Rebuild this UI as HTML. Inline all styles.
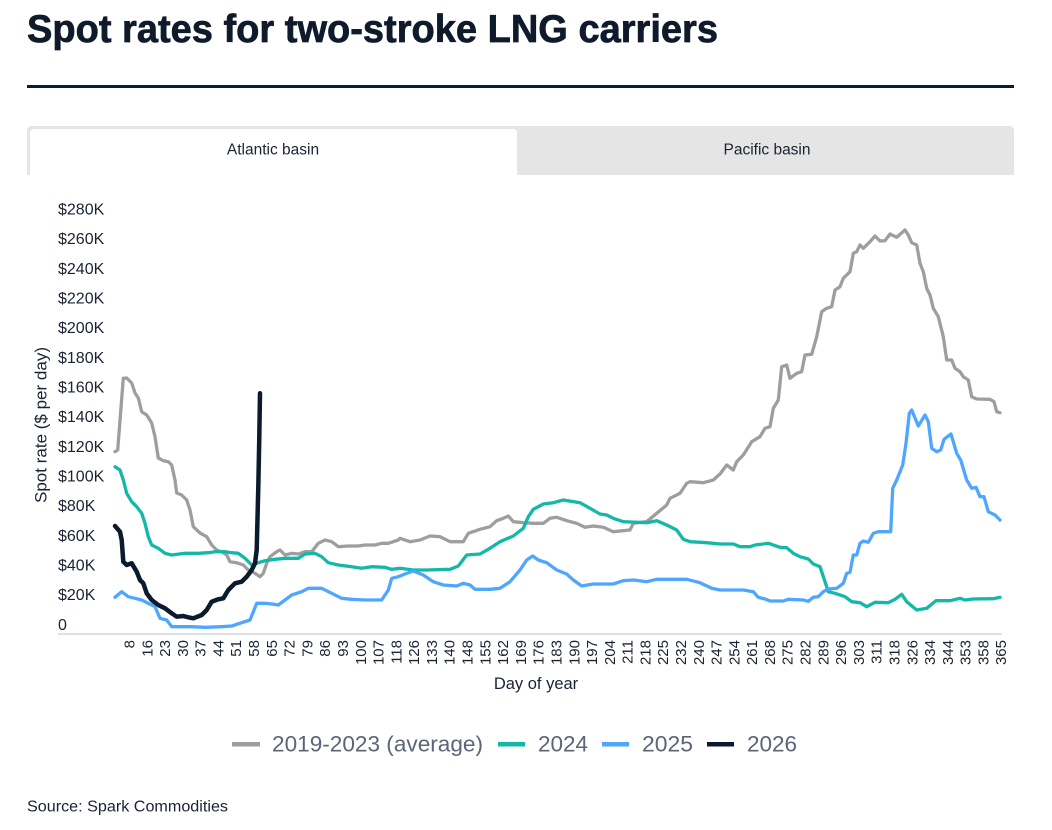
<!DOCTYPE html>
<html><head><meta charset="utf-8"><style>
html,body{margin:0;padding:0;background:#fff;}
svg{display:block;}
text{font-family:"Liberation Sans",Arial,sans-serif;}
</style></head><body>
<svg width="1052" height="830" viewBox="0 0 1052 830" xmlns="http://www.w3.org/2000/svg">
<rect width="1052" height="830" fill="#fff"/>
<text x="27" y="42" font-size="39" font-weight="bold" fill="#0f1b2b" stroke="#0f1b2b" stroke-width="0.7" textLength="691" lengthAdjust="spacingAndGlyphs">Spot rates for two-stroke LNG carriers</text>
<rect x="27" y="85" width="987" height="3" fill="#0f1b2b"/>
<path d="M27,175 L27,131 Q27,126 32,126 L1009,126 Q1014,126 1014,131 L1014,175 Z" fill="#e5e5e5"/>
<path d="M30,176 L30,133 Q30,129 34,129 L513,129 Q517,129 517,133 L517,176 Z" fill="#fff"/>
<text x="273" y="150" font-size="15.5" fill="#1a2332" text-anchor="middle" dominant-baseline="central">Atlantic basin</text>
<text x="767" y="150" font-size="15.5" fill="#1a2332" text-anchor="middle" dominant-baseline="central">Pacific basin</text>

<g font-size="16" fill="#1a2332" dominant-baseline="central">
<text x="58" y="210">$280K</text>
<text x="58" y="239.7">$260K</text>
<text x="58" y="269.3">$240K</text>
<text x="58" y="299">$220K</text>
<text x="58" y="328.6">$200K</text>
<text x="58" y="358.3">$180K</text>
<text x="58" y="388">$160K</text>
<text x="58" y="417.6">$140K</text>
<text x="58" y="447.3">$120K</text>
<text x="58" y="477">$100K</text>
<text x="58" y="506.6">$80K</text>
<text x="58" y="536.3">$60K</text>
<text x="58" y="566">$40K</text>
<text x="58" y="595.7">$20K</text>
<text x="58" y="625.4">0</text>
</g>
<text transform="translate(41,425) rotate(-90)" font-size="17" fill="#1a2332" text-anchor="middle" dominant-baseline="central" textLength="156" lengthAdjust="spacingAndGlyphs">Spot rate ($ per day)</text>

<line x1="58" y1="634" x2="1002" y2="634" stroke="#d3d6dd" stroke-width="1.5"/>

<g font-size="15" fill="#1a2332" text-anchor="end" dominant-baseline="central">
<text transform="translate(130,640) rotate(-90)">8</text>
<text transform="translate(147.8,640) rotate(-90)">16</text>
<text transform="translate(165.6,640) rotate(-90)">23</text>
<text transform="translate(183.4,640) rotate(-90)">30</text>
<text transform="translate(201.2,640) rotate(-90)">37</text>
<text transform="translate(219,640) rotate(-90)">44</text>
<text transform="translate(236.7,640) rotate(-90)">51</text>
<text transform="translate(254.5,640) rotate(-90)">58</text>
<text transform="translate(272.3,640) rotate(-90)">65</text>
<text transform="translate(290.1,640) rotate(-90)">72</text>
<text transform="translate(307.9,640) rotate(-90)">79</text>
<text transform="translate(325.7,640) rotate(-90)">86</text>
<text transform="translate(343.5,640) rotate(-90)">93</text>
<text transform="translate(361.3,640) rotate(-90)">100</text>
<text transform="translate(379.1,640) rotate(-90)">107</text>
<text transform="translate(396.9,640) rotate(-90)">118</text>
<text transform="translate(414.6,640) rotate(-90)">126</text>
<text transform="translate(432.4,640) rotate(-90)">133</text>
<text transform="translate(450.2,640) rotate(-90)">140</text>
<text transform="translate(468,640) rotate(-90)">148</text>
<text transform="translate(485.8,640) rotate(-90)">155</text>
<text transform="translate(503.6,640) rotate(-90)">162</text>
<text transform="translate(521.4,640) rotate(-90)">169</text>
<text transform="translate(539.2,640) rotate(-90)">176</text>
<text transform="translate(557,640) rotate(-90)">183</text>
<text transform="translate(574.8,640) rotate(-90)">190</text>
<text transform="translate(592.5,640) rotate(-90)">197</text>
<text transform="translate(610.3,640) rotate(-90)">204</text>
<text transform="translate(628.1,640) rotate(-90)">211</text>
<text transform="translate(645.9,640) rotate(-90)">218</text>
<text transform="translate(663.7,640) rotate(-90)">225</text>
<text transform="translate(681.5,640) rotate(-90)">232</text>
<text transform="translate(699.3,640) rotate(-90)">240</text>
<text transform="translate(717.1,640) rotate(-90)">247</text>
<text transform="translate(734.9,640) rotate(-90)">254</text>
<text transform="translate(752.7,640) rotate(-90)">261</text>
<text transform="translate(770.4,640) rotate(-90)">268</text>
<text transform="translate(788.2,640) rotate(-90)">275</text>
<text transform="translate(806,640) rotate(-90)">282</text>
<text transform="translate(823.8,640) rotate(-90)">289</text>
<text transform="translate(841.6,640) rotate(-90)">296</text>
<text transform="translate(859.4,640) rotate(-90)">303</text>
<text transform="translate(877.2,640) rotate(-90)">311</text>
<text transform="translate(895,640) rotate(-90)">318</text>
<text transform="translate(912.8,640) rotate(-90)">326</text>
<text transform="translate(930.6,640) rotate(-90)">334</text>
<text transform="translate(948.3,640) rotate(-90)">344</text>
<text transform="translate(966.1,640) rotate(-90)">353</text>
<text transform="translate(983.9,640) rotate(-90)">358</text>
<text transform="translate(1001.7,640) rotate(-90)">365</text>
</g>
<text x="536" y="684" font-size="16.5" fill="#1a2332" text-anchor="middle" dominant-baseline="central">Day of year</text>

<g fill="none" stroke-linejoin="round" stroke-linecap="round">
<polyline stroke="#9e9e9e" stroke-width="3.3" points="115,451.7 117.7,450 123.3,378.3 126.7,378 131.7,383 135,393 138.3,398 141.7,411.7 146.7,415 151.7,423 155,436.7 158.3,458 163.3,460.7 168.3,461.7 171.7,465 175,480 176.7,493 181.7,495 186.7,500 190,510 193.3,526.7 200,533 206.7,536.7 211.7,545 216.7,550 223.3,552.7 226.7,555 230,561.7 236.7,562.7 243.3,565 248.3,570 255,573.3 260,576.7 263.3,573.3 266.7,563.3 270,556.7 276.7,551.7 280,550 285,555 291.7,553.3 298.3,554 305,551.7 311.7,551.7 318.3,543.3 325,540 331.7,541.7 338.3,546.7 348.3,546 358.3,546 365,545 375,545 381.7,543.3 388.3,543.3 398.3,540 400,538.3 410,541.7 420,540 430,536 440,536.7 450,541.7 463.3,541.7 468.3,533.3 480,529.3 490,526.7 496.7,520.7 503.3,518.3 508.3,516 513.3,521.7 523.3,522.7 533.3,523.3 543.3,523.3 550,518.3 556.7,517.3 566.7,520.7 576.7,523.3 585,527.3 593.3,526 603.3,527.3 613.3,531.7 630,530 633.3,523.3 646.7,521.7 656.7,513.3 666.7,505 670,498.3 680,493.3 686.7,483.3 690,481.7 703.3,482.7 713.3,480 720,474 726.7,465 733.3,470 736.7,461.7 743.3,455 751.7,441.7 760,436.7 765,428.3 770,426.7 773.3,408.3 778.3,400 781.7,366.7 786.7,365 790,378.3 796.7,373.3 801.7,371.7 805,355 811.7,354.3 816.7,336.7 821.7,311.7 826.7,308.3 831.7,306.7 835,290 840,286.7 843.3,278.3 850,271.7 853.3,253.3 856.7,251.7 860,245 863.3,248.3 870,241.7 875,236 880,241 885,240.7 890,234 896.7,237.3 905,230 908.3,235 911.7,242.7 916.7,245 920,263.3 923.3,271.7 926.7,288.3 930,295 933.3,308.3 938.3,316.7 943.3,336.7 946.7,360 951.7,360 955,368.3 960,371.7 963.3,376.7 968.3,380 971.7,396.7 976.7,399 990,399.3 994,401.7 996.7,411.7 1000,412.7"/>
<polyline stroke="#14b8a8" stroke-width="3.3" points="115,466.7 120,470 123.3,480 126.7,493.3 131.7,501.7 136.7,506.7 141.7,513.3 145,523.3 148.3,536.7 151.7,545 158.3,548.3 165,553.3 171.7,555 185,553.3 198.3,553.3 208.3,552.7 215,551.7 225,551.7 231.7,552.7 238.3,553.3 245,558.3 251.7,565 258.3,562.7 265,560.7 275,559.3 285,558.3 298.3,558.3 305,554 315,553.3 321.7,556.7 328.3,562.7 338.3,565 351.7,566.7 361.7,568.3 371.7,566.7 385,567.3 391.7,569.3 400,568.3 413.3,570 426.7,570 450,569.3 458.3,566 466.7,555 480,554 490,548.3 500,541.7 513.3,536 523.3,528.3 528.3,516.7 533.3,509.3 543.3,504 553.3,502.7 563.3,500 580,502.7 590,508.3 600,514 606.7,515 613.3,518.3 623.3,521.7 646.7,522.7 656.7,520.7 666.7,525 676.7,530 683.3,539.3 690,541.7 706.7,542.7 720,544 733.3,544 740,546.7 750,546.7 755,545 768.3,543.3 780,547.3 786.7,547.7 793.3,553.3 800,556.7 808.3,559 813.3,564 820,566.7 825,581.7 828.3,591.7 835,593.3 845,596.7 851.7,601.7 860,602.7 866.7,606.7 875,602.3 888.3,602.7 895,599.3 901.7,594.3 906.7,601.7 916.7,610 926.7,608.3 936,600.7 950,600.7 960,598.3 965,600 973.3,599 993.3,598.7 1000,597.3"/>
<polyline stroke="#4fa6ff" stroke-width="3.3" points="115,597.3 121.7,591.7 128.3,596.7 135,598.3 141.7,600 148.3,603.3 155,606.7 160,618.3 166.7,620 171.7,626.7 178.3,626.7 191.7,626.7 205,627.3 221.7,626.7 231.7,626 241.7,622.7 250,620 256.7,603.3 265,603.3 271.7,604 278.3,605 285,600 291.7,595 301.7,591.7 308.3,588.3 321.7,588.3 331.7,593.3 341.7,598.3 351.7,599.3 365,600 381.7,600 388.3,590 391.7,578.3 398.3,576.7 405,574 413.3,571 423.3,575 433.3,581.7 443.3,585 456.7,586 463.3,583.3 470,585 475,589.3 490,589.3 500,588.3 510,581.7 520,570 526.7,560 532.7,556 538.3,560 546.7,562.7 556.7,570 566.7,574 573.3,580 581.7,586 593.3,584 613.3,584 623.3,580.7 633.3,580 646.7,581.7 656.7,579.3 686.7,579.3 700,582.7 711.7,588.3 720,590 743.3,590 753.3,591.7 758.3,597.3 765,599 770,601 783.3,601 788.3,599.3 803.3,600 808.3,601.3 813.3,597.3 818.3,596.7 823.3,591.7 828.3,589 836.7,588.3 843.3,583.3 846.7,573.3 850,572.3 853.3,555 856.7,555 860,543.3 863.3,541 868.3,542.3 873.3,533.3 878.3,531.7 890.7,531.7 892.7,488.3 896.7,480 902.7,465 906,443.3 909.3,413.3 911.7,410 918.3,426 925,415 928.3,421.7 931.7,448.3 936.7,451.7 940.7,450 944,439.3 951,434 956.7,453.3 960.7,460 966.7,480 971.7,488.3 976,487.3 980,496.7 984,496.7 988.3,511.7 995,515 1000,520"/>
<polyline stroke="#0b1a2c" stroke-width="4.5" points="115,526 120,531.7 121.7,540 123.3,561.7 126.7,565 131.7,563.3 136.7,571.7 140,580 143.3,583.3 146.7,593.3 151.7,600 158.3,605 165,608.3 171.7,613.3 176.7,616.7 183.3,616 188.3,617.3 193.3,618.3 201.7,615 206.7,610 211.7,601.7 218.3,599.3 223.3,598.3 228.3,590 235,583.3 241.7,581.7 246.7,576.7 251.7,570 255,563.3 256.7,550 258.3,486.7 259.3,436.7 260,393.3"/>
</g>

<g font-size="22" fill="#5c6578" dominant-baseline="central">
<rect x="232" y="742" width="28" height="4.5" fill="#9e9e9e"/>
<text x="272" y="744" textLength="211" lengthAdjust="spacingAndGlyphs">2019-2023 (average)</text>
<rect x="498" y="742" width="27" height="4.5" fill="#14b8a8"/>
<text x="538" y="744" textLength="50" lengthAdjust="spacingAndGlyphs">2024</text>
<rect x="602" y="742" width="27" height="4.5" fill="#4fa6ff"/>
<text x="642" y="744" textLength="51" lengthAdjust="spacingAndGlyphs">2025</text>
<rect x="707" y="742" width="27" height="4.5" fill="#0b1a2c"/>
<text x="747" y="744" textLength="50" lengthAdjust="spacingAndGlyphs">2026</text>
</g>

<text x="27" y="807" font-size="15.5" fill="#1a2332" dominant-baseline="central" textLength="201" lengthAdjust="spacingAndGlyphs">Source: Spark Commodities</text>
</svg>
</body></html>
